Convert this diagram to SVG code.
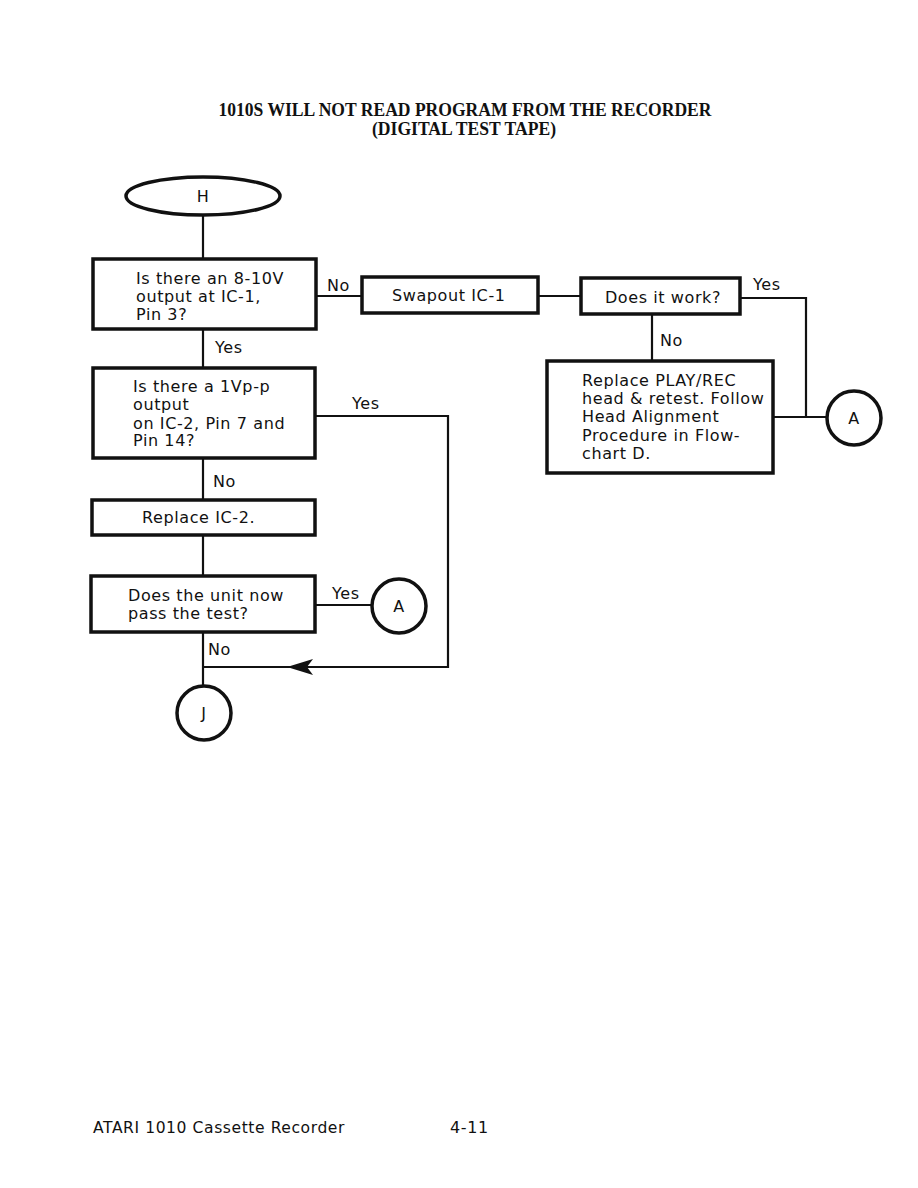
<svg xmlns="http://www.w3.org/2000/svg" width="918" height="1188" viewBox="0 0 918 1188">
<style>
.box{fill:#fff;stroke:#111;stroke-width:3.5}
.ln{fill:none;stroke:#111;stroke-width:2.2}
.t{font-family:"DejaVu Sans","Liberation Sans",sans-serif;font-size:16px;letter-spacing:0.6px;fill:#111}
.ttl{font-family:"Liberation Serif","Times New Roman",serif;font-size:18px;font-weight:bold;fill:#111}
</style>
<rect width="918" height="1188" fill="#fff"/>
<text class="ttl" x="465" y="116" text-anchor="middle" textLength="493" lengthAdjust="spacingAndGlyphs">1010S WILL NOT READ PROGRAM FROM THE RECORDER</text>
<text class="ttl" x="464" y="135" text-anchor="middle" textLength="184" lengthAdjust="spacingAndGlyphs">(DIGITAL TEST TAPE)</text>
<g id="connectors">
<line class="ln" x1="203" y1="215" x2="203" y2="259"/>
<line class="ln" x1="203" y1="329" x2="203" y2="368"/>
<line class="ln" x1="203" y1="458" x2="203" y2="500"/>
<line class="ln" x1="203" y1="535" x2="203" y2="576"/>
<line class="ln" x1="203" y1="632" x2="203" y2="686"/>
<line class="ln" x1="316" y1="296" x2="362" y2="296"/>
<line class="ln" x1="538" y1="296" x2="581" y2="296"/>
<polyline class="ln" points="740,298 806,298 806,417"/>
<line class="ln" x1="652" y1="314" x2="652" y2="361"/>
<line class="ln" x1="773" y1="417" x2="826" y2="417"/>
<polyline class="ln" points="315,416 448,416 448,667 203,667"/>
<polygon points="287,667 313,659 307,667 313,675" fill="#111"/>
<line class="ln" x1="315" y1="605" x2="372" y2="605"/>
<text class="t" x="327" y="291">No</text>
<text class="t" x="215" y="353">Yes</text>
<text class="t" x="352" y="409">Yes</text>
<text class="t" x="213" y="487">No</text>
<text class="t" x="332" y="599">Yes</text>
<text class="t" x="208" y="655">No</text>
<text class="t" x="753" y="290">Yes</text>
<text class="t" x="660" y="346">No</text>
</g>
<g id="startH">
<ellipse class="box" cx="203" cy="196" rx="77" ry="19"/>
<text class="t" x="203" y="202" text-anchor="middle">H</text>
</g>
<g id="q1">
<rect class="box" x="93" y="259" width="223" height="70"/>
<text class="t" x="136" y="284">Is there an 8-10V</text>
<text class="t" x="136" y="302">output at IC-1,</text>
<text class="t" x="136" y="320">Pin 3?</text>
</g>
<g id="swap">
<rect class="box" x="362" y="277" width="176" height="36"/>
<text class="t" x="392" y="301">Swapout IC-1</text>
</g>
<g id="works">
<rect class="box" x="581" y="278" width="159" height="36"/>
<text class="t" x="663" y="303" text-anchor="middle">Does it work?</text>
</g>
<g id="replaceHead">
<rect class="box" x="547" y="361" width="226" height="112"/>
<text class="t" x="582" y="386">Replace PLAY/REC</text>
<text class="t" x="582" y="404">head &amp; retest. Follow</text>
<text class="t" x="582" y="422">Head Alignment</text>
<text class="t" x="582" y="441">Procedure in Flow-</text>
<text class="t" x="582" y="459">chart D.</text>
</g>
<g id="connA1">
<circle class="box" cx="854" cy="418" r="27"/>
<text class="t" x="854" y="424" text-anchor="middle">A</text>
</g>
<g id="q2">
<rect class="box" x="93" y="368" width="222" height="90"/>
<text class="t" x="133" y="392">Is there a 1Vp-p</text>
<text class="t" x="133" y="410">output</text>
<text class="t" x="133" y="429">on IC-2, Pin 7 and</text>
<text class="t" x="133" y="446">Pin 14?</text>
</g>
<g id="replaceIC2">
<rect class="box" x="92" y="500" width="223" height="35"/>
<text class="t" x="142" y="523">Replace IC-2.</text>
</g>
<g id="q3">
<rect class="box" x="91" y="576" width="224" height="56"/>
<text class="t" x="128" y="601">Does the unit now</text>
<text class="t" x="128" y="619">pass the test?</text>
</g>
<g id="connA2">
<circle class="box" cx="399" cy="606" r="27"/>
<text class="t" x="399" y="612" text-anchor="middle">A</text>
</g>
<g id="connJ">
<circle class="box" cx="204" cy="713" r="27"/>
<text class="t" x="204" y="719" text-anchor="middle">J</text>
</g>
<text class="t" x="93" y="1133" font-size="16" textLength="252" lengthAdjust="spacingAndGlyphs">ATARI 1010 Cassette Recorder</text>
<text class="t" x="450" y="1133" font-size="16">4-11</text>
</svg>
